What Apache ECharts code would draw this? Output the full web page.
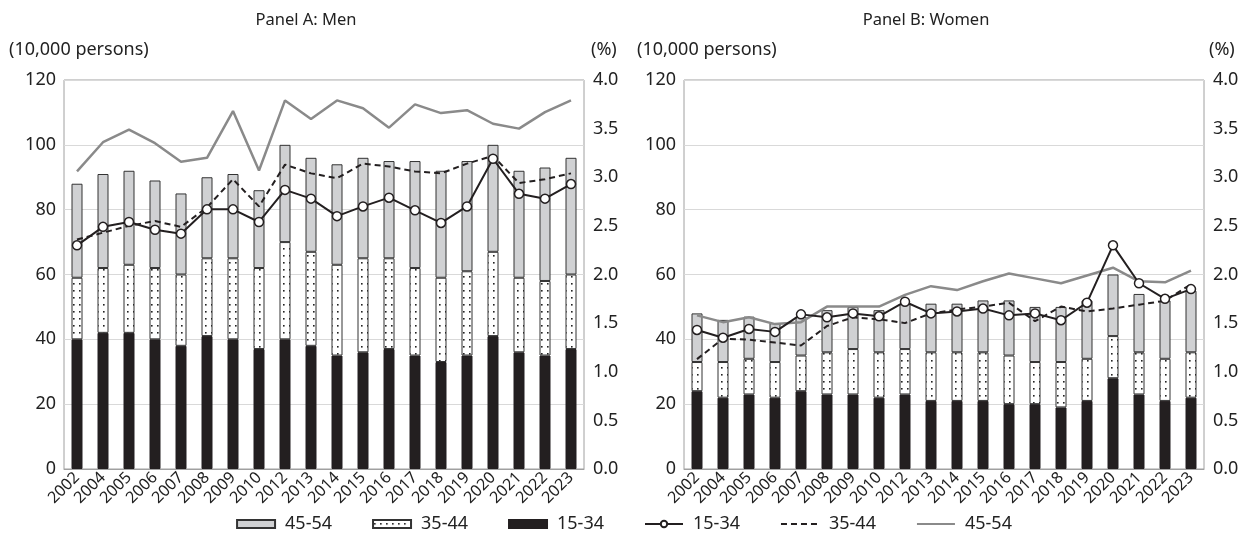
<!DOCTYPE html>
<html>
<head>
<meta charset="utf-8">
<script src="https://cdn.jsdelivr.net/npm/echarts@6/dist/echarts.min.js"></script>
<style>html,body{margin:0;padding:0;background:#fff}#c{width:1248px;height:550px}</style>
</head>
<body>
<div id="c"></div>
<script>
// ---- data ----
var years = ['2002','2004','2005','2006','2007','2008','2009','2010','2012','2013','2014','2015','2016','2017','2018','2019','2020','2021','2022','2023'];
var leftTicks = [0, 20, 40, 60, 80, 100, 120];
var rightTicks = ['0.0','0.5','1.0','1.5','2.0','2.5','3.0','3.5','4.0'];

var menBar1534 = [40,42,42,40,38,41,40,37,40,38,35,36,37,35,33,35,41,36,35,37];
var menBar3544 = [19,20,21,22,22,24,25,25,30,29,28,29,28,27,26,26,26,23,23,23];
var menBar4554 = [29,29,29,27,25,25,26,24,30,29,31,31,30,33,33,34,33,33,35,36];
var menRate1534 = [2.30,2.49,2.54,2.46,2.42,2.67,2.67,2.54,2.87,2.78,2.60,2.70,2.79,2.66,2.53,2.70,3.19,2.83,2.78,2.93];
var menRate3544 = [2.36,2.43,2.50,2.55,2.49,2.69,2.98,2.70,3.13,3.04,2.99,3.14,3.11,3.06,3.04,3.14,3.22,2.94,2.98,3.04];
var menRate4554 = [3.06,3.36,3.49,3.35,3.16,3.20,3.68,3.07,3.79,3.60,3.79,3.71,3.51,3.75,3.66,3.69,3.55,3.50,3.67,3.79];

var womBar1534 = [24,22,23,22,24,23,23,22,23,21,21,21,20,20,19,21,28,23,21,22];
var womBar3544 = [9,11,11,11,11,13,14,14,14,15,15,15,15,13,14,13,13,13,13,14];
var womBar4554 = [15,13,13,12,12,13,13,13,14,15,15,16,17,17,17,18,19,18,18,19];
var womRate1534 = [1.43,1.35,1.44,1.41,1.59,1.56,1.60,1.57,1.72,1.60,1.62,1.65,1.58,1.60,1.53,1.71,2.30,1.91,1.75,1.85];
var womRate3544 = [1.13,1.34,1.33,1.30,1.27,1.47,1.56,1.54,1.50,1.60,1.64,1.67,1.71,1.52,1.67,1.62,1.65,1.69,1.73,1.90];
var womRate4554 = [1.58,1.51,1.56,1.49,1.51,1.67,1.67,1.67,1.79,1.88,1.84,1.93,2.01,1.96,1.91,1.99,2.07,1.93,1.92,2.04];

// ---- styles ----
var FONT = '"Noto Sans", "Open Sans", sans-serif';
function dotPattern() {
  var c = document.createElement('canvas');
  c.width = 6; c.height = 7;
  var g = c.getContext('2d');
  g.fillStyle = '#ffffff'; g.fillRect(0, 0, 6, 7);
  g.fillStyle = '#222222'; g.fillRect(1, 3, 1.6, 1.6);
  return c;
}
var dots = { image: dotPattern(), repeat: 'repeat' };

var GRAY = '#d0d1d3';
var gridCommon = { top: 80, height: 389, width: 520, show: true, borderColor: '#a0a0a0', borderWidth: 1, containLabel: false };

function xAxisDef(gi) {
  return {
    type: 'category', gridIndex: gi, data: years, boundaryGap: true,
    axisLine: { show: true, lineStyle: { color: '#a0a0a0' } },
    axisTick: { show: false },
    axisLabel: { rotate: 45, interval: 0, fontSize: 16, color: '#222', fontFamily: FONT, margin: 6 }
  };
}
function leftY(gi) {
  return {
    type: 'value', gridIndex: gi, min: leftTicks[0], max: leftTicks[leftTicks.length - 1], interval: 20, position: 'left',
    axisLine: { show: false }, axisTick: { show: false },
    splitLine: { show: true, lineStyle: { color: '#d9d9d9', width: 1 } },
    axisLabel: { fontSize: 18, color: '#222', fontFamily: FONT, margin: 8 }
  };
}
function rightY(gi) {
  return {
    type: 'value', gridIndex: gi, min: 0, max: 4, interval: 0.5, position: 'right',
    axisLine: { show: false }, axisTick: { show: false }, splitLine: { show: false },
    axisLabel: { fontSize: 18, color: '#222', fontFamily: FONT, margin: 9,
      formatter: function (v) { return rightTicks[Math.round(v / 0.5)]; } }
  };
}

function panelSeries(gi, b1, b2, b3, r1, r2, r3) {
  var stack = 'st' + gi;
  return [
    { name: '15-34', type: 'bar', xAxisIndex: gi, yAxisIndex: gi * 2, stack: stack, barWidth: 11, data: b1,
      itemStyle: { color: '#231f20', borderColor: '#231f20', borderWidth: 1 } },
    { name: '35-44', type: 'bar', xAxisIndex: gi, yAxisIndex: gi * 2, stack: stack, barWidth: 11, data: b2,
      itemStyle: { color: dots, borderColor: '#333', borderWidth: 1 } },
    { name: '45-54', type: 'bar', xAxisIndex: gi, yAxisIndex: gi * 2, stack: stack, barWidth: 11, data: b3,
      itemStyle: { color: GRAY, borderColor: '#333', borderWidth: 1 } },
    { name: '45-54 ', type: 'line', xAxisIndex: gi, yAxisIndex: gi * 2 + 1, data: r3, symbol: 'none', z: 3,
      lineStyle: { color: '#8a8a8a', width: 2.5 }, itemStyle: { color: '#8a8a8a' } },
    { name: '35-44 ', type: 'line', xAxisIndex: gi, yAxisIndex: gi * 2 + 1, data: r2, symbol: 'none', z: 4,
      lineStyle: { color: '#231f20', width: 2, type: [6, 4] }, itemStyle: { color: '#231f20' } },
    { name: '15-34 ', type: 'line', xAxisIndex: gi, yAxisIndex: gi * 2 + 1, data: r1, symbol: 'circle', symbolSize: 9, z: 5,
      lineStyle: { color: '#231f20', width: 2 }, itemStyle: { color: '#ffffff', borderColor: '#231f20', borderWidth: 1.5 } }
  ];
}

var textStyle = function (x, y, t, align, size) {
  return { type: 'text', x: x, y: y, style: { text: t, x: 0, y: 0, textAlign: align, textVerticalAlign: 'middle', font: size + 'px ' + FONT, fill: '#222' } };
};

var option = {
  animation: false,
  backgroundColor: '#ffffff',
  textStyle: { fontFamily: FONT },
  grid: [Object.assign({ left: 64 }, gridCommon), Object.assign({ left: 684 }, gridCommon)],
  xAxis: [xAxisDef(0), xAxisDef(1)],
  yAxis: [leftY(0), rightY(0), leftY(1), rightY(1)],
  legend: {
    top: 510, left: 'center', itemWidth: 38, itemHeight: 8, itemGap: 40,
    data: [
      { name: '45-54', icon: 'rect' },
      { name: '35-44', icon: 'rect' },
      { name: '15-34', icon: 'rect' },
      '15-34 ',
      { name: '35-44 ', itemStyle: { opacity: 0 } },
      { name: '45-54 ', itemStyle: { opacity: 0 } }
    ],
    formatter: function (n) { return n.trim(); },
    textStyle: { fontSize: 18, color: '#222', fontFamily: FONT, padding: [0, 0, 0, 5] }
  },
  graphic: [
    textStyle(306, 20, 'Panel A: Men', 'center', 16.5),
    textStyle(926, 20, 'Panel B: Women', 'center', 16.5),
    textStyle(9, 50, '(10,000 persons)', 'left', 18),
    textStyle(591, 50, '(%)', 'left', 18),
    textStyle(637, 50, '(10,000 persons)', 'left', 18),
    textStyle(1209, 50, '(%)', 'left', 18)
  ],
  series: [].concat(
    panelSeries(0, menBar1534, menBar3544, menBar4554, menRate1534, menRate3544, menRate4554),
    panelSeries(1, womBar1534, womBar3544, womBar4554, womRate1534, womRate3544, womRate4554)
  )
};
var chart = echarts.init(document.getElementById('c'));
chart.setOption(option);
</script>
</body>
</html>
